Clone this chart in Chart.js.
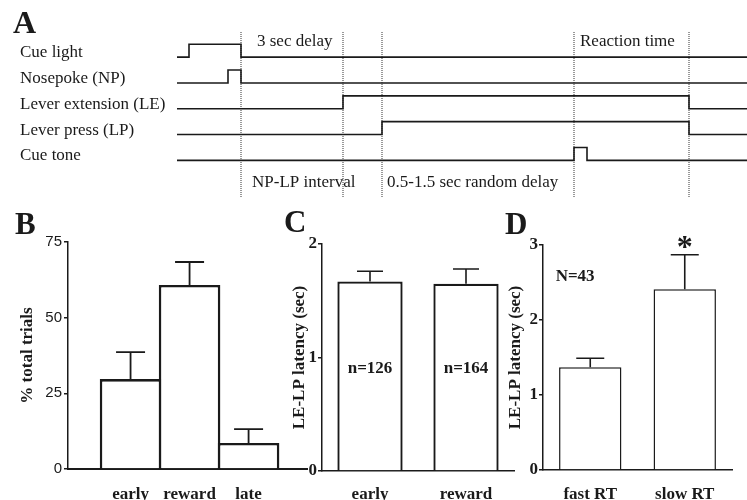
<!DOCTYPE html>
<html><head><meta charset="utf-8">
<script src="https://cdn.jsdelivr.net/npm/chart.js@4.4.1/dist/chart.umd.min.js"></script>
<style>
html,body{margin:0;padding:0;background:#fff;width:747px;height:500px;overflow:hidden}
#wrap{position:relative;width:747px;height:500px}
canvas{position:absolute;left:0;top:0}
</style></head>
<body><div id="wrap">
<canvas id="cA" width="747" height="500"></canvas>
<canvas id="cB" width="747" height="500"></canvas>
<canvas id="cC" width="747" height="500"></canvas>
<canvas id="cD" width="747" height="500"></canvas>
</div>
<script>
// ---------- Panel A: trial timing (schematic time units) ----------
const timingSignals = ['Cue light','Nosepoke (NP)','Lever extension (LE)','Lever press (LP)','Cue tone'];
const cueLightSteps   = [[0,0],[12,1],[64,0],[570,0]];
const nosepokeSteps   = [[0,0],[51,1],[64,0],[570,0]];
const leverExtSteps   = [[0,0],[166,1],[512,0],[570,0]];
const leverPressSteps = [[0,0],[205,1],[512,0],[570,0]];
const cueToneSteps    = [[0,0],[397,1],[410,0],[570,0]];
const epochBoundaries = [64,166,205,397,512];
const epochTopLabels = ['3 sec delay','Reaction time'];
const epochTopStarts = [80,403];
const epochBottomLabels = ['NP-LP interval','0.5-1.5 sec random delay'];
const epochBottomStarts = [75,210];

// ---------- Panel B ----------
const bCategories = ['early','reward','late'];
const bValues = [29.7, 60.8, 8.6];
const bErrors = [8.9, 7.6, 4.6];
const bTickValues = [0,25,50,75];
// ---------- Panel C ----------
const cCategories = ['early','reward'];
const cValues = [1.67, 1.65];
const cErrors = [0.09, 0.13];
const cCounts = ['n=126','n=164'];
// ---------- Panel D ----------
const dCategories = ['fast RT','slow RT'];
const dValues = [1.37, 2.41];
const dErrors = [0.12, 0.46];
const dNote = 'N=43';
const dSignif = '*';

const INK = '#1a1a1a';
const SERIF = '"Liberation Serif","Times New Roman",serif';
const SANS = '"Liberation Sans",Arial,sans-serif';

function textLayer(items){
  return {id:'texts', afterDraw(chart){
    const ctx = chart.ctx; ctx.save();
    items.forEach(it=>{
      ctx.font = it.font; ctx.fillStyle = INK;
      ctx.textAlign = it.align || 'left'; ctx.textBaseline = 'alphabetic';
      const x = it.dataX !== undefined ? chart.scales.x.getPixelForValue(it.dataX) : it.px;
      const y = it.dataY !== undefined ? chart.scales.y.getPixelForValue(it.dataY) : it.py;
      ctx.fillText(it.text, x, y);
    });
    ctx.restore();
  }};
}
function errorLayer(errs, capW, lw){
  return {id:'errbars', afterDatasetsDraw(chart){
    const meta = chart.getDatasetMeta(0), ys = chart.scales.y, ctx = chart.ctx;
    const data = chart.data.datasets[0].data;
    ctx.save(); ctx.strokeStyle = INK; ctx.lineWidth = lw;
    meta.data.forEach((bar,i)=>{
      const v = typeof data[i] === 'object' ? data[i].y : data[i];
      const top = ys.getPixelForValue(v + errs[i]);
      ctx.beginPath();
      ctx.moveTo(bar.x, bar.y); ctx.lineTo(bar.x, top);
      ctx.moveTo(bar.x - capW/2, top); ctx.lineTo(bar.x + capW/2, top);
      ctx.stroke();
    });
    ctx.restore();
  }};
}
const baseOpts = {responsive:false, animation:false, events:[], devicePixelRatio:1};
const noPlug = {legend:{display:false}, tooltip:{enabled:false}};

// ---------- Chart A ----------
const A_TOP = 1.95, A_BOT = -10.92;
const stepsList = [cueLightSteps,nosepokeSteps,leverExtSteps,leverPressSteps,cueToneSteps];
const aDatasets = stepsList.map((steps,row)=>({
  data: steps.map(([t,l])=>({x:t, y:l - 2*row})),
  stepped:'before', borderColor:INK, borderWidth:1.6, pointRadius:0, fill:false, clip:false
})).concat(epochBoundaries.map(t=>({
  data:[{x:t,y:A_TOP},{x:t,y:A_BOT}], borderColor:'#333', borderWidth:1, borderDash:[1,1],
  pointRadius:0, fill:false, clip:false
})));
const aTexts = [{text:'A', px:13, py:33, font:'bold 32px '+SERIF}]
  .concat(timingSignals.map((s,row)=>({text:s, px:20, dataY:-2*row, font:'17px '+SERIF})))
  .concat(epochTopLabels.map((s,i)=>({text:s, dataX:epochTopStarts[i], dataY:0.88, font:'17px '+SERIF})))
  .concat(epochBottomLabels.map((s,i)=>({text:s, dataX:epochBottomStarts[i], dataY:-10.07, font:'17px '+SERIF})));
new Chart(document.getElementById('cA'), {
  type:'line',
  data:{datasets:aDatasets},
  options:Object.assign({}, baseOpts, {
    layout:{padding:{left:177, top:32, right:0, bottom:302}},
    scales:{x:{type:'linear', display:false, min:0, max:570}, y:{display:false, min:A_BOT, max:A_TOP}},
    plugins:noPlug
  }),
  plugins:[textLayer(aTexts)]
});

// ---------- Chart B ----------
new Chart(document.getElementById('cB'), {
  type:'bar',
  data:{datasets:[{data:bCategories.map((c,i)=>({x:i, y:bValues[i]})),
    backgroundColor:'#fff', borderColor:INK, borderWidth:2.6, barPercentage:1.044, categoryPercentage:1}]},
  options:Object.assign({}, baseOpts, {
    layout:{padding:{left:0, top:242, right:440, bottom:0}},
    scales:{
      x:{type:'linear', offset:false, min:-1.06, max:2.99,
         afterBuildTicks:(ax)=>{ax.ticks = bCategories.map((c,i)=>({value:i}));},
         afterFit:(s)=>{s.height = 31;},
         ticks:{callback:(v)=>bCategories[v], autoSkip:false, maxRotation:0, padding:7,
                font:{family:SERIF, size:17, weight:'bold'}, color:INK},
         grid:{display:false}, border:{display:true, color:INK, width:2}},
      y:{min:0, max:75, afterBuildTicks:(ax)=>{ax.ticks = bTickValues.map(v=>({value:v}));},
         afterFit:(s)=>{s.width = 68;},
         ticks:{padding:2, font:{family:SANS, size:15}, color:INK},
         grid:{display:true, drawOnChartArea:false, drawTicks:true, tickLength:4, color:INK, lineWidth:1.5},
         border:{display:true, color:INK, width:1.5},
         title:{display:true, text:'% total trials', padding:{top:17,bottom:0},
                font:{family:SERIF, size:17, weight:'bold'}, color:INK}}
    },
    plugins:noPlug
  }),
  plugins:[errorLayer(bErrors, 29, 1.8), textLayer([{text:'B', px:15, py:234, font:'bold 31px '+SERIF}])]
});

// ---------- Chart C ----------
new Chart(document.getElementById('cC'), {
  type:'bar',
  data:{labels:cCategories, datasets:[{data:cValues,
    backgroundColor:'#fff', borderColor:INK, borderWidth:2.3, barPercentage:0.68, categoryPercentage:1}]},
  options:Object.assign({}, baseOpts, {
    layout:{padding:{left:289, top:244, right:233, bottom:0}},
    scales:{
      x:{type:'category', offset:true, afterFit:(s)=>{s.height = 29;},
         ticks:{padding:5, maxRotation:0, font:{family:SERIF, size:17, weight:'bold'}, color:INK},
         grid:{display:false}, border:{display:true, color:INK, width:1.5}},
      y:{min:0, max:2, ticks:{stepSize:1, padding:1, font:{family:SERIF, size:17, weight:'bold'}, color:INK},
         afterFit:(s)=>{s.width = 33;},
         grid:{display:true, drawOnChartArea:false, drawTicks:true, tickLength:4, color:INK, lineWidth:1.5},
         border:{display:true, color:INK, width:1.5},
         title:{display:true, text:'LE-LP latency (sec)', padding:{top:0,bottom:0},
                font:{family:SERIF, size:17, weight:'bold'}, color:INK}}
    },
    plugins:noPlug
  }),
  plugins:[errorLayer(cErrors, 26, 1.6), textLayer(
    [{text:'C', px:284, py:232, font:'bold 31px '+SERIF}]
    .concat(cCounts.map((t,i)=>({text:t, dataX:i, dataY:0.86, align:'center', font:'bold 17px '+SERIF}))))]
});

// ---------- Chart D ----------
new Chart(document.getElementById('cD'), {
  type:'bar',
  data:{labels:dCategories, datasets:[{data:dValues,
    backgroundColor:'#fff', borderColor:INK, borderWidth:1.5, barPercentage:0.66, categoryPercentage:1}]},
  options:Object.assign({}, baseOpts, {
    layout:{padding:{left:505, top:245, right:15, bottom:0}},
    scales:{
      x:{type:'category', offset:true, afterFit:(s)=>{s.height = 30;},
         ticks:{padding:6, maxRotation:0, font:{family:SERIF, size:17, weight:'bold'}, color:INK},
         grid:{display:false}, border:{display:true, color:INK, width:1.5}},
      y:{min:0, max:3, ticks:{stepSize:1, padding:1, font:{family:SERIF, size:17, weight:'bold'}, color:INK},
         afterFit:(s)=>{s.width = 38;},
         grid:{display:true, drawOnChartArea:false, drawTicks:true, tickLength:4, color:INK, lineWidth:1.5},
         border:{display:true, color:INK, width:1.5},
         title:{display:true, text:'LE-LP latency (sec)', padding:{top:0,bottom:0},
                font:{family:SERIF, size:17, weight:'bold'}, color:INK}}
    },
    plugins:noPlug
  }),
  plugins:[errorLayer(dErrors, 28, 1.6), textLayer([
    {text:'D', px:505, py:234, font:'bold 31px '+SERIF},
    {text:dNote, dataX:-0.16, dataY:2.52, align:'center', font:'bold 17px '+SERIF},
    {text:dSignif, dataX:1, dataY:2.84, align:'center', font:'bold 32px '+SERIF}
  ])]
});
</script>
</body></html>
